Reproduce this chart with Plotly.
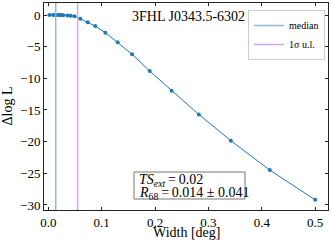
import plotly.graph_objects as go

# ---- data ----
width_deg = [0.002, 0.009, 0.013, 0.017, 0.021, 0.024, 0.028, 0.036, 0.042, 0.049,
             0.060, 0.074, 0.088, 0.107, 0.130, 0.157, 0.190, 0.231, 0.282, 0.342,
             0.415, 0.500]
delta_logl = [0.0, 0.0, 0.0, 0.0, 0.0, -0.01, -0.02, -0.06, -0.12, -0.2,
              -0.6, -1.15, -1.75, -2.8, -4.3, -6.2, -8.85, -11.95, -15.7, -19.85,
              -24.5, -29.2]
median_width = 0.014
ul_width = 0.055
source_name = "3FHL J0343.5-6302"
ts_ext = "0.02"
r68_text = "0.014 ± 0.041"
x_ticks = [0.0, 0.1, 0.2, 0.3, 0.4, 0.5]
y_ticks = [0, -5, -10, -15, -20, -25, -30]

X_RANGE = [-0.008, 0.524]
Y_RANGE = [-30.8, 1.9]

W, H = 332, 244
ML, MR, MT, MB = 44, 4, 3, 34
PW, PH = W - ML - MR, H - MT - MB


def px(x):
    return (x - ML) / PW


def py(y):
    return 1 - (y - MT) / PH


FONT = "Liberation Serif"

fig = go.Figure()
fig.add_trace(go.Scatter(
    x=width_deg, y=delta_logl, mode="lines+markers",
    line=dict(color="#1f77b4", width=1),
    marker=dict(color="#1f77b4", size=4),
    showlegend=False, hoverinfo="skip"))
fig.add_trace(go.Scatter(
    x=[median_width, median_width], y=[Y_RANGE[0] - 5, Y_RANGE[1] + 5],
    mode="lines", line=dict(color="#8fbbd9", width=1.5), name="median"))
fig.add_trace(go.Scatter(
    x=[ul_width, ul_width], y=[Y_RANGE[0] - 5, Y_RANGE[1] + 5],
    mode="lines", line=dict(color="#d9a3ef", width=1.5), name="1σ u.l."))

axis_common = dict(
    showline=True, linecolor="#222", linewidth=1, mirror="allticks",
    ticks="inside", ticklen=3, tickcolor="#222", showgrid=False, zeroline=False,
    tickfont=dict(family=FONT, size=13, color="black"))

fig.update_xaxes(range=X_RANGE, tickvals=x_ticks, tickformat=".1f", **axis_common)
fig.update_yaxes(range=Y_RANGE, tickvals=y_ticks, **axis_common)

annotations = [
    dict(text="Width [deg]", x=0.5, y=0, xref="paper", yref="paper",
         yshift=-22, xanchor="center", yanchor="middle", showarrow=False,
         font=dict(family=FONT, size=14, color="black")),
    dict(text="Δlog L", x=0, y=0.5, xref="paper", yref="paper",
         xshift=-37, xanchor="center", yanchor="middle", textangle=-90,
         showarrow=False, font=dict(family=FONT, size=14, color="black")),
    dict(text=source_name, x=px(188), y=py(17), xref="paper", yref="paper",
         xanchor="center", yanchor="middle", showarrow=False,
         font=dict(family=FONT, size=14, color="black")),
    dict(text="<i>TS</i><sub><i>ext</i></sub>\u2009=\u2009" + ts_ext,
         x=px(137), y=py(180), xref="paper", yref="paper",
         xanchor="left", yanchor="middle", showarrow=False,
         font=dict(family=FONT, size=14, color="black")),
    dict(text="<i>R</i><sub>68</sub>\u2009=\u2009" + r68_text,
         x=px(137), y=py(193), xref="paper", yref="paper",
         xanchor="left", yanchor="middle", showarrow=False,
         font=dict(family=FONT, size=14, color="black")),
]

shapes = [
    dict(type="rect", xref="paper", yref="paper",
         x0=px(134), x1=px(245), y0=py(199), y1=py(172),
         line=dict(color="#777", width=1), fillcolor="white", layer="above"),
]

fig.update_layout(
    width=W, height=H,
    margin=dict(l=ML, r=MR, t=MT, b=MB),
    paper_bgcolor="white", plot_bgcolor="white",
    font=dict(family=FONT, color="black"),
    showlegend=True,
    legend=dict(x=px(325), y=py(10), xanchor="right", yanchor="top",
                bgcolor="white", bordercolor="#cccccc", borderwidth=1,
                font=dict(family=FONT, size=10, color="black"),
                itemwidth=30, tracegroupgap=0),
    annotations=annotations,
    shapes=shapes,
)

fig.write_html("out.html", config={"displayModeBar": False},
               post_script="document.body.style.margin='0';")
